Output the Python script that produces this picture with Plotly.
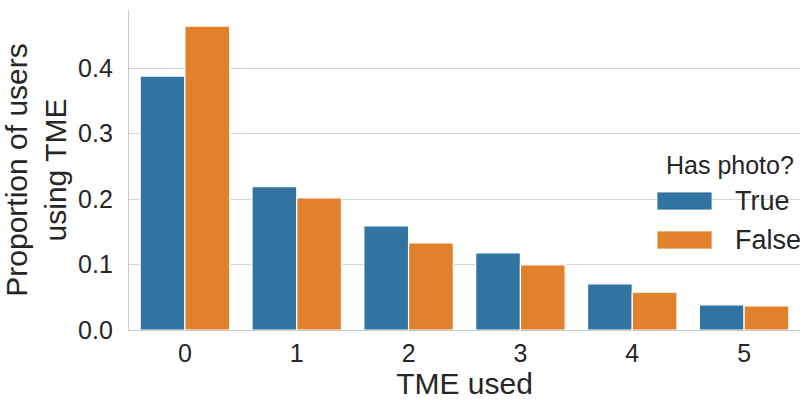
import plotly.graph_objects as go

categories = ["0", "1", "2", "3", "4", "5"]
true_vals = [0.388, 0.219, 0.159, 0.118, 0.0705, 0.0385]
false_vals = [0.4645, 0.202, 0.133, 0.0995, 0.0578, 0.037]
series_names = ["True", "False"]
colors = ["#3274a1", "#e1812c"]
y_ticks = [0.0, 0.1, 0.2, 0.3, 0.4]

W, H = 804, 400
L, R, T, B = 129, 4, 10, 70
pw, ph = W - L - R, H - T - B

def px(x):
    return (x - L) / pw

def py(y):
    return (H - B - y) / ph

fig = go.Figure()
for name, vals, col in zip(series_names, [true_vals, false_vals], colors):
    fig.add_trace(go.Bar(x=categories, y=vals, name=name,
                         marker=dict(color=col, line=dict(color="white", width=1.2)),
                         showlegend=False))

font_family = "Liberation Sans, Arial, sans-serif"
txt = "#262626"

# custom legend (matplotlib-style large patches)
shapes = []
annotations = []
annotations.append(dict(x=px(796), y=py(165), xref="paper", yref="paper",
                        text="Has photo?", showarrow=False, xanchor="right", yanchor="middle",
                        font=dict(size=25, color=txt, family=font_family)))
for i, (name, col) in enumerate(zip(series_names, colors)):
    yc = 201 + i * 39
    shapes.append(dict(type="rect", xref="paper", yref="paper",
                       x0=px(657), x1=px(712), y0=py(yc - 9), y1=py(yc + 9),
                       fillcolor=col, line=dict(width=0.8, color="white"), layer="above"))
    annotations.append(dict(x=px(733), y=py(yc), xref="paper", yref="paper",
                            text=name, showarrow=False, xanchor="left", yanchor="middle",
                            font=dict(size=27, color=txt, family=font_family)))

fig.update_layout(
    width=W, height=H,
    margin=dict(l=L, r=R, t=T, b=B, pad=0),
    paper_bgcolor="white", plot_bgcolor="white",
    barmode="group", bargap=0.2, bargroupgap=0,
    font=dict(family=font_family, color=txt),
    shapes=shapes, annotations=annotations,
    xaxis=dict(range=[-0.5, 5.5], showgrid=False, showline=True, linecolor="#cccccc",
               linewidth=1.3, ticks="", tickfont=dict(size=25, color=txt),
               ticklabelstandoff=1,
               title=dict(text="TME used", font=dict(size=30, color=txt), standoff=3)),
    yaxis=dict(range=[0, 0.489], tickvals=y_ticks, tickformat=".1f",
               showgrid=True, gridcolor="#d5d5d5", gridwidth=1,
               showline=True, linecolor="#cccccc", linewidth=1.3, ticks="",
               zeroline=False, tickfont=dict(size=25, color=txt),
               ticklabelstandoff=10,
               title=dict(text="Proportion of users<br>using TME",
                          font=dict(size=30, color=txt), standoff=8)),
)

fig.write_html("out.html", config={"displayModeBar": False},
               post_script="document.body.style.margin='0';")
